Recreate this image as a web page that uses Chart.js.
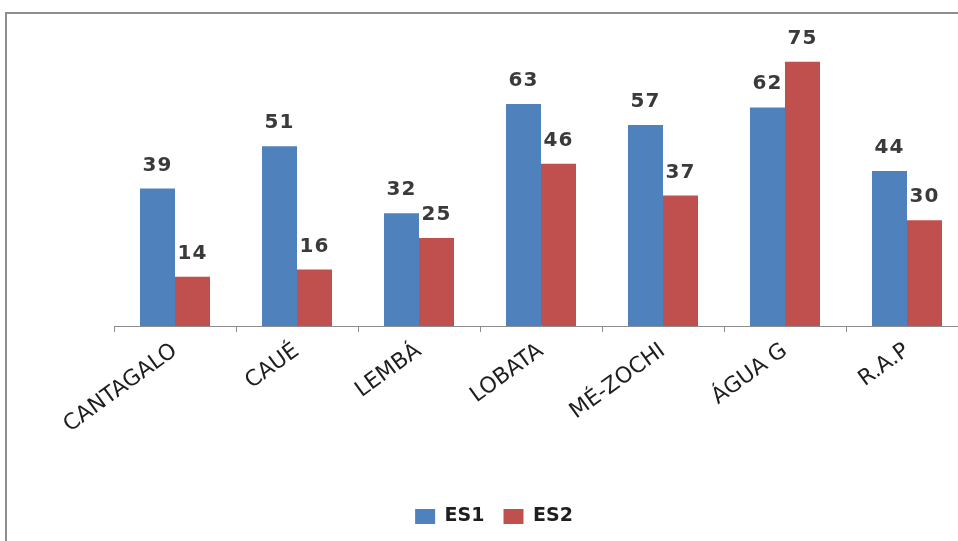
<!DOCTYPE html>
<html>
<head>
<meta charset="utf-8">
<script src="https://cdn.jsdelivr.net/npm/chart.js@4.4.1/dist/chart.umd.min.js"></script>
<style>
  html, body { margin: 0; padding: 0; background: #fff; overflow: hidden; width: 958px; height: 541px; }
  #wrap { position: absolute; left: 0; top: 0; width: 958px; height: 541px; overflow: hidden; }
  #chart { position: absolute; left: 0; top: 0; }
</style>
</head>
<body>
<div id="wrap"><canvas id="chart" width="1000" height="541"></canvas></div>
<script>
// Districts and the two survey series
const categories = ["CANTAGALO", "CAUÉ", "LEMBÁ", "LOBATA", "MÉ-ZOCHI", "ÁGUA G", "R.A.P"];
const es1Values = [39, 51, 32, 63, 57, 62, 44];
const es2Values = [14, 16, 25, 46, 37, 75, 30];
const seriesNames = ["ES1", "ES2"];

// Grey outline around the chart (its right and bottom edges run off the page)
const chartFrame = {
  id: "chartFrame",
  beforeDraw(chart) {
    const ctx = chart.ctx;
    ctx.save();
    ctx.strokeStyle = "#8e8e8e";
    ctx.lineWidth = 2;
    ctx.beginPath();
    ctx.moveTo(6, 600);
    ctx.lineTo(6, 13);
    ctx.lineTo(1100, 13);
    ctx.stroke();
    ctx.restore();
  }
};

// Writes each bar's value just above it
const valueLabels = {
  id: "valueLabels",
  afterDatasetsDraw(chart) {
    const ctx = chart.ctx;
    ctx.save();
    ctx.font = "bold 20px 'DejaVu Sans'";
    ctx.fillStyle = "#3a3a3a";
    ctx.textAlign = "center";
    ctx.textBaseline = "alphabetic";
    if ("letterSpacing" in ctx) ctx.letterSpacing = "1px";
    chart.data.datasets.forEach((ds, i) => {
      chart.getDatasetMeta(i).data.forEach((bar, j) => {
        ctx.fillText(String(ds.data[j]), bar.x, bar.y - 18);
      });
    });
    ctx.restore();
  }
};

new Chart(document.getElementById("chart"), {
  type: "bar",
  data: {
    labels: categories,
    datasets: [
      { label: seriesNames[0], data: es1Values, backgroundColor: "#4F81BD" },
      { label: seriesNames[1], data: es2Values, backgroundColor: "#C0504D" }
    ]
  },
  options: {
    responsive: false,
    animation: false,
    events: [],
    layout: { padding: { left: 20, right: 32, top: 44, bottom: 5 } },
    datasets: { bar: { categoryPercentage: 0.574, barPercentage: 1.0 } },
    scales: {
      y: {
        display: true, min: 0, max: 80,
        afterFit(scale) { scale.width = 94; },
        ticks: { display: false },
        grid: { display: false },
        border: { display: false }
      },
      x: {
        afterFit(scale) { scale.height = 162; },
        border: { display: true, color: "#8c8c8c", width: 1 },
        grid: { display: true, offset: true, drawOnChartArea: false, drawTicks: true,
                tickLength: 6, color: "#8c8c8c" },
        ticks: {
          minRotation: 36, maxRotation: 36, autoSkip: false, padding: 6,
          color: "#1e1e1e",
          font: { family: "'DejaVu Sans'", size: 22 }
        }
      }
    },
    plugins: {
      legend: {
        position: "bottom",
        labels: {
          boxWidth: 20, boxHeight: 15, padding: 19,
          color: "#1e1e1e",
          font: { family: "'DejaVu Sans'", size: 19, weight: "bold" }
        }
      },
      tooltip: { enabled: false }
    }
  },
  plugins: [chartFrame, valueLabels]
});
</script>
</body>
</html>
